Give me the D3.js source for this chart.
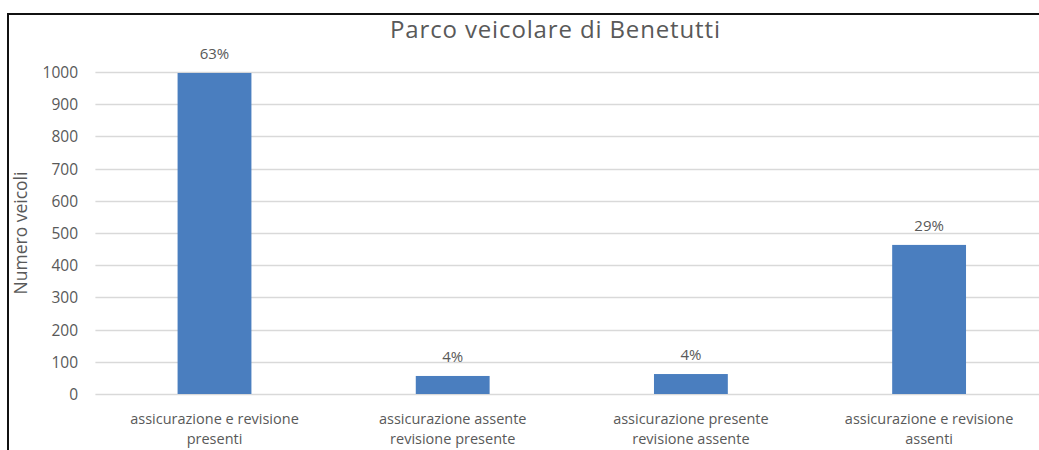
<!DOCTYPE html>
<html>
<head>
<meta charset="utf-8">
<script src="https://cdn.jsdelivr.net/npm/d3@7"></script>
<style>
  html, body { margin: 0; padding: 0; background: #fff; }
  svg { display: block; }
  text { font-family: "Open Sans", "Liberation Sans", sans-serif; fill: #595959; }
</style>
</head>
<body>
<svg id="chart" width="1039" height="450"></svg>
<script>
// Vehicle fleet of Benetutti: counts per insurance / inspection status
const categories = [
  ["assicurazione e revisione", "presenti"],
  ["assicurazione assente", "revisione presente"],
  ["assicurazione presente", "revisione assente"],
  ["assicurazione e revisione", "assenti"]
];
const vehicles = [997, 56, 62, 463];
const percentLabels = ["63%", "4%", "4%", "29%"];
const yTicks = [0, 100, 200, 300, 400, 500, 600, 700, 800, 900, 1000];

const svg = d3.select("#chart");
const plot = { left: 95.4, right: 1048.2, top: 72, bottom: 394 };

const x = d3.scaleBand()
  .domain(d3.range(categories.length))
  .range([plot.left, plot.right])
  .paddingInner(0.69)
  .paddingOuter(0.345);

const y = d3.scaleLinear()
  .domain([0, 1000])
  .range([plot.bottom, plot.top]);

// outer frame (left and top edges)
svg.append("line").attr("x1", 8).attr("x2", 8).attr("y1", 13).attr("y2", 450)
  .attr("stroke", "#111").attr("stroke-width", 2);
svg.append("line").attr("x1", 7).attr("x2", 1039).attr("y1", 14).attr("y2", 14)
  .attr("stroke", "#111").attr("stroke-width", 2);

// title
svg.append("text")
  .attr("x", 555).attr("y", 38)
  .attr("text-anchor", "middle")
  .style("font-size", "24px")
  .attr("textLength", 330)
  .attr("lengthAdjust", "spacing")
  .text("Parco veicolare di Benetutti");

// horizontal gridlines
svg.append("g").selectAll("line")
  .data(yTicks)
  .join("line")
  .attr("x1", plot.left).attr("x2", 1039)
  .attr("y1", d => Math.round(y(d)) + 0.5)
  .attr("y2", d => Math.round(y(d)) + 0.5)
  .attr("stroke", "#d9d9d9")
  .attr("stroke-width", 1.5);

// y axis tick labels
const yAxis = d3.axisLeft(y).tickValues(yTicks).tickFormat(d3.format("d")).tickSize(0).tickPadding(0);
const gy = svg.append("g").attr("transform", "translate(78,0)").call(yAxis);
gy.select(".domain").remove();
gy.selectAll("text")
  .style("font-size", "15.5px")
  .style("font-family", "'Open Sans', sans-serif")
  .attr("fill", "#666")
  .attr("dy", "0.36em");

// y axis title
svg.append("text")
  .attr("transform", `translate(27,${(plot.top + plot.bottom) / 2}) rotate(-90)`)
  .attr("text-anchor", "middle")
  .style("font-size", "17.5px")
  .text("Numero veicoli");

// bars
svg.append("g").selectAll("rect")
  .data(vehicles)
  .join("rect")
  .attr("x", (d, i) => x(i))
  .attr("width", x.bandwidth())
  .attr("y", d => y(d))
  .attr("height", d => y(0) - y(d))
  .attr("fill", "#4a7ebf");

// value labels above bars
svg.append("g").selectAll("text")
  .data(vehicles)
  .join("text")
  .attr("x", (d, i) => x(i) + x.bandwidth() / 2)
  .attr("y", d => y(d) - 14)
  .attr("text-anchor", "middle")
  .style("font-size", "15px")
  .text((d, i) => percentLabels[i]);

// category labels (two lines each)
const xAxis = d3.axisBottom(x).tickSize(0).tickFormat(() => "");
const gx = svg.append("g").attr("transform", `translate(0,${plot.bottom})`).call(xAxis);
gx.select(".domain").remove();
gx.selectAll(".tick").each(function(i) {
  const t = d3.select(this).select("text")
    .attr("y", 0).attr("dy", null)
    .style("font-size", "14.5px")
    .style("font-family", "'Open Sans', sans-serif")
    .attr("fill", "#666")
    .attr("text-anchor", "middle")
    .attr("textLength", null);
  t.selectAll("tspan")
    .data(categories[i])
    .join("tspan")
    .attr("x", 0)
    .attr("y", (d, k) => 30 + k * 20)
    .text(d => d);
});
</script>
</body>
</html>
